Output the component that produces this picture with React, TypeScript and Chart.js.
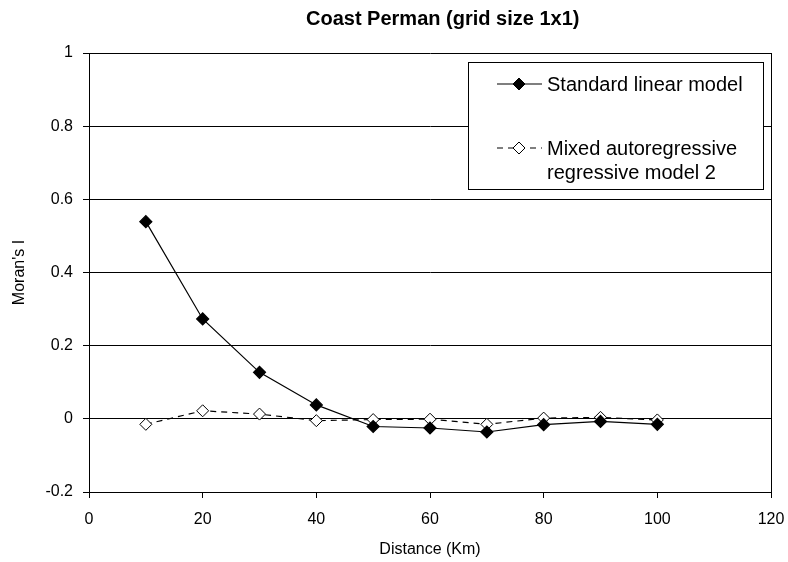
import React, { useEffect, useRef } from "react";
import { Chart, registerables } from "chart.js";

Chart.register(...registerables);

const distances = [10, 20, 30, 40, 50, 60, 70, 80, 90, 100];
const standardLinear = [0.539, 0.273, 0.127, 0.038, -0.021, -0.025, -0.036, -0.016, -0.007, -0.015];
const mixedAutoregressive = [-0.015, 0.022, 0.013, -0.005, -0.002, -0.001, -0.015, 0.002, 0.004, -0.003];
const seriesNames = ["Standard linear model", "Mixed autoregressive\nregressive model 2"];
const titleText = "Coast Perman (grid size 1x1)";
const xTitle = "Distance (Km)";
const yTitle = "Moran's I";

const FONT = "'Liberation Sans', Arial, Helvetica, sans-serif";

function drawDiamond(ctx: CanvasRenderingContext2D, x: number, y: number, r: number, filled: boolean) {
  ctx.beginPath();
  ctx.moveTo(x, y - r);
  ctx.lineTo(x + r, y);
  ctx.lineTo(x, y + r);
  ctx.lineTo(x - r, y);
  ctx.closePath();
  ctx.fillStyle = filled ? "#000" : "#fff";
  ctx.fill();
  ctx.lineWidth = 1;
  ctx.strokeStyle = "#000";
  ctx.stroke();
}

const decorPlugin = {
  id: "decor",
  afterDraw(chart: any) {
    const ctx: CanvasRenderingContext2D = chart.ctx;
    const a = chart.chartArea;
    ctx.save();
    // right border
    ctx.strokeStyle = "#000";
    ctx.lineWidth = 1;
    ctx.beginPath();
    ctx.moveTo(Math.round(a.right) + 0.5, a.top);
    ctx.lineTo(Math.round(a.right) + 0.5, a.bottom);
    ctx.stroke();
    // title
    ctx.fillStyle = "#000";
    ctx.font = `bold 20px ${FONT}`;
    ctx.textAlign = "left";
    ctx.textBaseline = "alphabetic";
    ctx.fillText(titleText, 306, 25);
    // legend box
    const bx = 468, by = 62, bw = 295, bh = 127;
    ctx.fillStyle = "#fff";
    ctx.fillRect(bx, by, bw, bh);
    ctx.strokeStyle = "#000";
    ctx.lineWidth = 1;
    ctx.strokeRect(bx + 0.5, by + 0.5, bw, bh);
    const entries = [
      { y: 84, dash: [] as number[], filled: true, lines: seriesNames[0].split("\n") },
      { y: 148, dash: [6, 5], filled: false, lines: seriesNames[1].split("\n") },
    ];
    ctx.font = `20px ${FONT}`;
    ctx.textAlign = "left";
    ctx.textBaseline = "middle";
    for (const e of entries) {
      ctx.strokeStyle = "#000";
      ctx.lineWidth = 1.2;
      ctx.setLineDash(e.dash);
      ctx.beginPath();
      ctx.moveTo(497, e.y);
      ctx.lineTo(542, e.y);
      ctx.stroke();
      ctx.setLineDash([]);
      drawDiamond(ctx, 519, e.y, 6, e.filled);
      ctx.fillStyle = "#000";
      e.lines.forEach((t, i) => ctx.fillText(t, 547, e.y + 1 + i * 24));
    }
    ctx.restore();
  },
};

export default function App() {
  const ref = useRef<HTMLCanvasElement>(null);
  useEffect(() => {
    document.body.style.margin = "0";
    const chart = new Chart(ref.current!, {
      type: "line",
      data: {
        datasets: [
          {
            label: seriesNames[0],
            data: distances.map((x, i) => ({ x, y: standardLinear[i] })),
            borderColor: "#000",
            backgroundColor: "#000",
            borderWidth: 1.2,
            pointStyle: "rectRot",
            pointRadius: 6,
            pointBackgroundColor: "#000",
            pointBorderColor: "#000",
            tension: 0,
          },
          {
            label: seriesNames[1],
            data: distances.map((x, i) => ({ x, y: mixedAutoregressive[i] })),
            borderColor: "#000",
            backgroundColor: "#fff",
            borderWidth: 1.2,
            borderDash: [6, 5],
            pointStyle: "rectRot",
            pointRadius: 6,
            pointBackgroundColor: "#fff",
            pointBorderColor: "#000",
            pointBorderWidth: 1,
            tension: 0,
          },
        ],
      },
      options: {
        responsive: false,
        animation: false,
        devicePixelRatio: 1,
        layout: { padding: { top: 53, right: 17, left: 0, bottom: 0 } },
        plugins: { legend: { display: false }, title: { display: false }, tooltip: { enabled: false } },
        scales: {
          x: {
            type: "linear",
            min: 0,
            max: 120,
            afterFit: (s: any) => { s.height = 70; s.paddingLeft = 0; s.paddingRight = 0; },
            ticks: { stepSize: 20, color: "#000", font: { family: FONT, size: 16 }, padding: 12, maxRotation: 0 },
            grid: { drawOnChartArea: false, drawTicks: true, tickLength: 6, color: "#000" },
            border: { display: true, color: "#000", width: 1 },
            title: { display: true, text: xTitle, color: "#000", font: { family: FONT, size: 16 }, padding: { top: 4, bottom: 3 } },
          },
          y: {
            min: -0.2,
            max: 1,
            afterFit: (s: any) => { s.width = 89; s.paddingTop = 0; s.paddingBottom = 0; },
            ticks: {
              stepSize: 0.2,
              color: "#000",
              font: { family: FONT, size: 16 },
              padding: 10,
              callback: (v: any) => String(Math.round(Number(v) * 10) / 10),
            },
            grid: { color: "#000", lineWidth: 1, drawTicks: true, tickLength: 6 },
            border: { display: true, color: "#000", width: 1 },
            title: { display: true, text: yTitle, color: "#000", font: { family: FONT, size: 16 }, padding: { top: 10, bottom: 4 } },
          },
        },
      },
      plugins: [decorPlugin],
    } as any);
    return () => chart.destroy();
  }, []);
  return <canvas ref={ref} width={788} height={562} style={{ display: "block" }} />;
}
